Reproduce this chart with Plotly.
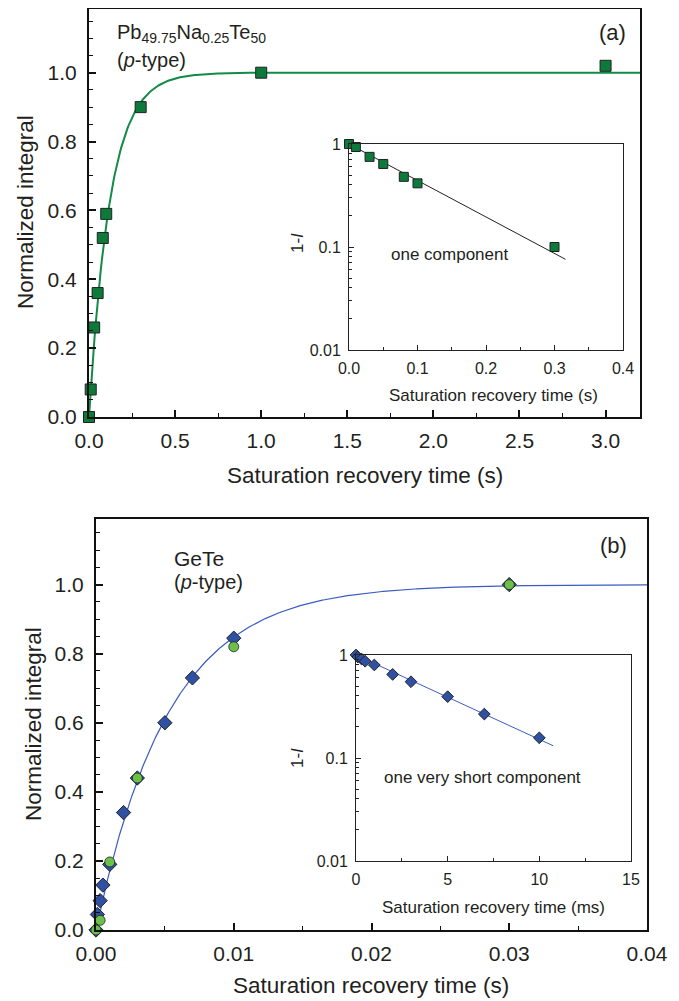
import numpy as np
import plotly.graph_objects as go

# ---------------- data ----------------
# Panel (a): Pb49.75Na0.25Te50
a_time = [0.0, 0.01, 0.03, 0.05, 0.08, 0.10, 0.30, 1.00, 3.00]
a_integral = [0.0, 0.08, 0.26, 0.36, 0.52, 0.59, 0.90, 1.00, 1.02]
a_inset_time = [0.0, 0.01, 0.03, 0.05, 0.08, 0.10, 0.30]
a_inset_one_minus = [1.0, 0.935, 0.75, 0.64, 0.48, 0.415, 0.10]
a_T1 = 0.1226          # fitted recovery time (s)
a_fit_end_inset = 0.316

# Panel (b): GeTe
b_dia_time = [0.0, 0.0001, 0.0003, 0.0005, 0.001, 0.002, 0.003, 0.005, 0.007, 0.010, 0.030]
b_dia_integral = [0.0, 0.045, 0.085, 0.13, 0.19, 0.34, 0.44, 0.60, 0.73, 0.845, 1.0]
b_circ_time = [0.0, 0.0003, 0.001, 0.003, 0.010, 0.030]
b_circ_integral = [0.0, 0.028, 0.197, 0.44, 0.82, 1.0]
b_inset_time_ms = [0.0, 0.1, 0.3, 0.5, 1.0, 2.0, 3.0, 5.0, 7.0, 10.0]
b_inset_one_minus = [1.0, 0.955, 0.915, 0.87, 0.80, 0.648, 0.55, 0.394, 0.267, 0.157]
b_T1_ms = 5.3           # fitted recovery time (ms)
b_fit_end_inset = 10.76

OFF = 8                 # page body margin
W, H = 679 - OFF, 1001 - OFF
FONT = "Liberation Sans, Arial, Helvetica, sans-serif"
TXT = "#231f20"

def px(x):
    return min(1.0, max(0.0, (x - OFF) / W))

def py(y):
    return min(1.0, max(0.0, 1 - (y - OFF) / H))

GREEN_SQ = "#0e7a3a"
GREEN_LINE = "#138a45"
BLUE = "#3050a2"
BLUE_LINE = "#3a5cc0"
LGREEN = "#6cc04a"
EDGE = "#1e2226"

fig = go.Figure()

# ---- panel (a) main ----
ta = np.linspace(0, 3.2, 600)
fig.add_trace(go.Scatter(x=ta, y=1 - np.exp(-ta / a_T1), mode="lines",
                         line=dict(color=GREEN_LINE, width=2), xaxis="x", yaxis="y",
                         showlegend=False, hoverinfo="skip"))
fig.add_trace(go.Scatter(x=a_time, y=a_integral, mode="markers",
                         marker=dict(symbol="square", size=11, color=GREEN_SQ,
                                     line=dict(color=EDGE, width=1)),
                         xaxis="x", yaxis="y", showlegend=False, cliponaxis=False))

# ---- panel (a) inset ----
tai = np.linspace(0, a_fit_end_inset, 50)
fig.add_trace(go.Scatter(x=tai, y=np.exp(-tai / a_T1), mode="lines",
                         line=dict(color="#222222", width=1), xaxis="x2", yaxis="y2",
                         showlegend=False, hoverinfo="skip"))
fig.add_trace(go.Scatter(x=a_inset_time, y=a_inset_one_minus, mode="markers",
                         marker=dict(symbol="square", size=9, color=GREEN_SQ,
                                     line=dict(color=EDGE, width=1)),
                         xaxis="x2", yaxis="y2", showlegend=False, cliponaxis=False))

# ---- panel (b) main ----
tb = np.linspace(0, 0.04, 600)
fig.add_trace(go.Scatter(x=tb, y=1 - np.exp(-tb / (b_T1_ms / 1000)), mode="lines",
                         line=dict(color=BLUE_LINE, width=1.2), xaxis="x3", yaxis="y3",
                         showlegend=False, hoverinfo="skip"))
fig.add_trace(go.Scatter(x=b_dia_time, y=b_dia_integral, mode="markers",
                         marker=dict(symbol="diamond", size=11, color=BLUE,
                                     line=dict(color=EDGE, width=1)),
                         xaxis="x3", yaxis="y3", showlegend=False, cliponaxis=False))
fig.add_trace(go.Scatter(x=b_circ_time, y=b_circ_integral, mode="markers",
                         marker=dict(symbol="circle", size=10, color=LGREEN,
                                     line=dict(color=EDGE, width=0.8)),
                         xaxis="x3", yaxis="y3", showlegend=False, cliponaxis=False))

# ---- panel (b) inset ----
tbi = np.linspace(0, b_fit_end_inset, 50)
fig.add_trace(go.Scatter(x=tbi, y=np.exp(-tbi / b_T1_ms), mode="lines",
                         line=dict(color=BLUE_LINE, width=1), xaxis="x4", yaxis="y4",
                         showlegend=False, hoverinfo="skip"))
fig.add_trace(go.Scatter(x=b_inset_time_ms, y=b_inset_one_minus, mode="markers",
                         marker=dict(symbol="diamond", size=9, color=BLUE,
                                     line=dict(color=EDGE, width=1)),
                         xaxis="x4", yaxis="y4", showlegend=False, cliponaxis=False))

main_tick = dict(size=21, color=TXT, family=FONT)
inset_tick = dict(size=16, color=TXT, family=FONT)

def main_x(domain, rng, dtick, minor_dtick, fmt, anchor):
    return dict(domain=domain, range=rng, dtick=dtick, tick0=0, tickformat=fmt,
                ticks="inside", ticklen=7, tickwidth=1.5, tickcolor="#111",
                minor=dict(ticks="inside", ticklen=4, tickwidth=1, tickcolor="#111",
                           dtick=minor_dtick, tick0=0, showgrid=False),
                showline=True, linecolor="#111", linewidth=2, mirror=True,
                showgrid=False, zeroline=False, tickfont=main_tick, anchor=anchor,
                ticklabelstandoff=4, automargin=False, fixedrange=True)

def main_y(domain, rng, anchor):
    return dict(domain=domain, range=rng, dtick=0.2, tick0=0, tickformat=".1f",
                ticks="inside", ticklen=7, tickwidth=1.5, tickcolor="#111",
                minor=dict(ticks="inside", ticklen=4, tickwidth=1, tickcolor="#111",
                           dtick=0.05, tick0=0, showgrid=False),
                showline=True, linecolor="#111", linewidth=2, mirror=True,
                showgrid=False, zeroline=False, tickfont=main_tick, anchor=anchor,
                ticklabelstandoff=6, automargin=False, fixedrange=True)

def inset_x(domain, rng, dtick, minor_dtick, fmt, anchor):
    return dict(domain=domain, range=rng, dtick=dtick, tick0=0, tickformat=fmt,
                ticks="inside", ticklen=5, tickwidth=1, tickcolor="#222",
                minor=dict(ticks="inside", ticklen=3, tickwidth=1, tickcolor="#222",
                           dtick=minor_dtick, tick0=0, showgrid=False),
                showline=True, linecolor="#222", linewidth=1, mirror=True,
                showgrid=False, zeroline=False, tickfont=inset_tick, anchor=anchor,
                ticklabelstandoff=4, automargin=False, fixedrange=True)

def inset_y(domain, anchor):
    return dict(domain=domain, type="log", range=[-2, 0], dtick=1, tickformat="~g",
                ticks="inside", ticklen=5, tickwidth=1, tickcolor="#222",
                minor=dict(ticks="inside", ticklen=3, tickwidth=1, tickcolor="#222",
                           dtick="D1", showgrid=False),
                showline=True, linecolor="#222", linewidth=1, mirror=True,
                showgrid=False, zeroline=False, tickfont=inset_tick, anchor=anchor,
                ticklabelstandoff=4, automargin=False, fixedrange=True)

fig.update_layout(
    width=W, height=H,
    margin=dict(l=0, r=0, t=0, b=0),
    paper_bgcolor="white", plot_bgcolor="white",
    font=dict(family=FONT, color=TXT),
    xaxis=main_x([px(89), px(640)], [0, 3.2], 0.5, 0.25, ".1f", "y"),
    yaxis=main_y([py(417), py(9)], [0, 1.185], "x"),
    xaxis2=inset_x([px(349), px(623)], [0, 0.4], 0.1, 0.05, ".1f", "y2"),
    yaxis2=inset_y([py(350), py(144)], "x2"),
    xaxis3=main_x([px(96), px(647)], [0, 0.04], 0.01, 0.005, ".2f", "y3"),
    yaxis3=main_y([py(930), py(519)], [0, 1.19], "x3"),
    xaxis4=inset_x([px(356), px(631)], [0, 15], 5, 2.5, "d", "y4"),
    yaxis4=inset_y([py(861), py(655)], "x4"),
    showlegend=False,
)

def ann(text, x, y, size, xanchor="center", angle=0):
    fig.add_annotation(text=text, x=px(x), y=py(y), xref="paper", yref="paper",
                       showarrow=False, xanchor=xanchor, yanchor="middle",
                       textangle=angle, font=dict(size=size, color=TXT, family=FONT))

# axis titles
ann("Saturation recovery time (s)", 365, 475, 22.5)
ann("Normalized integral", 25, 212, 22.5, angle=-90)
ann("Saturation recovery time (s)", 371, 985, 22.5)
ann("Normalized integral", 33, 724, 22.5, angle=-90)
ann("Saturation recovery time (s)", 493, 395, 17)
ann("1-<i>I</i>", 297, 243, 17, angle=-90)
ann("Saturation recovery time (ms)", 493, 907, 17)
ann("1-<i>I</i>", 297, 758, 17, angle=-90)

# in-plot labels
ann("one component", 449, 255, 17)
ann("one very short component", 482, 777, 17)
ann("(a)", 612, 32, 22)
ann("(b)", 613, 545, 22)
ann("Pb<sub>49.75</sub>Na<sub>0.25</sub>Te<sub>50</sub>", 115, 34, 20, xanchor="left")
ann("(<i>p</i>-type)", 115, 60, 20, xanchor="left")
ann("GeTe", 172, 558, 21, xanchor="left")
ann("(<i>p</i>-type)", 172, 582, 20, xanchor="left")

fig.write_html("out.html")
